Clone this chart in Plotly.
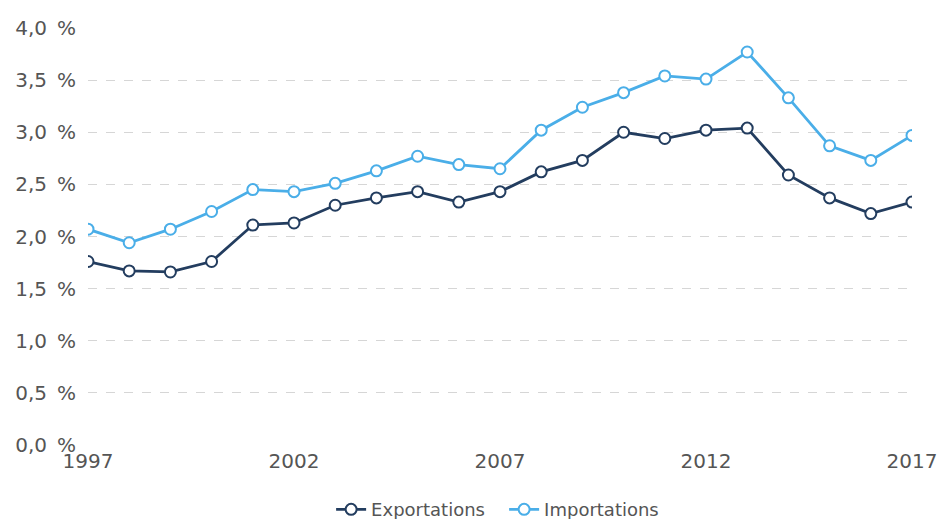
import plotly.graph_objects as go

years = list(range(1997, 2018))
exportations = [1.76, 1.67, 1.66, 1.76, 2.11, 2.13, 2.30, 2.37, 2.43, 2.33, 2.43,
                2.62, 2.73, 3.00, 2.94, 3.02, 3.04, 2.59, 2.37, 2.22, 2.33]
importations = [2.07, 1.94, 2.07, 2.24, 2.45, 2.43, 2.51, 2.63, 2.77, 2.69, 2.65,
                3.02, 3.24, 3.38, 3.54, 3.51, 3.77, 3.33, 2.87, 2.73, 2.97]
y_ticks = [0.0, 0.5, 1.0, 1.5, 2.0, 2.5, 3.0, 3.5, 4.0]
y_labels = ["0,0\u2002%", "0,5\u2002%", "1,0\u2002%", "1,5\u2002%", "2,0\u2002%",
            "2,5\u2002%", "3,0\u2002%", "3,5\u2002%", "4,0\u2002%"]
x_ticks = [1997, 2002, 2007, 2012, 2017]

col_exp = "#233d5f"
col_imp = "#4aaee8"
font_fam = "DejaVu Sans, Verdana, sans-serif"

fig = go.Figure()
fig.add_trace(go.Scatter(
    x=years, y=exportations, name="Exportations", mode="lines+markers",
    line=dict(color=col_exp, width=2.8),
    marker=dict(symbol="circle", size=11, color="white", line=dict(color=col_exp, width=2)),
))
fig.add_trace(go.Scatter(
    x=years, y=importations, name="Importations", mode="lines+markers",
    line=dict(color=col_imp, width=2.8),
    marker=dict(symbol="circle", size=11, color="white", line=dict(color=col_imp, width=2)),
))

fig.update_layout(
    width=940, height=519,
    margin=dict(l=88, r=28, t=28, b=74, autoexpand=False),
    paper_bgcolor="white", plot_bgcolor="white",
    font=dict(family=font_fam, color="#555555", size=20),
    showlegend=True,
    legend=dict(orientation="h", x=0.505, xanchor="center", y=-0.155, yanchor="middle",
                itemwidth=30, entrywidth=128,
                font=dict(size=18, color="#555555"), traceorder="normal"),
    xaxis=dict(range=[1997, 2017], tickvals=x_ticks, ticktext=[str(v) for v in x_ticks],
               showgrid=False, zeroline=False, showline=False, ticks="",
               automargin=False, ticklabelstandoff=2,
               tickfont=dict(size=20, color="#555555")),
    yaxis=dict(range=[0, 4.0], tickvals=y_ticks, ticktext=y_labels,
               showgrid=True, gridcolor="#d6d6d6", griddash="dash", gridwidth=1,
               zeroline=False, showline=False, ticks="", automargin=False,
               ticklabelstandoff=11,
               tickfont=dict(size=20, color="#555555")),
)

fig.write_html("out.html", config={"displayModeBar": False},
               post_script="document.body.style.margin='0';document.body.style.overflow='hidden';")
